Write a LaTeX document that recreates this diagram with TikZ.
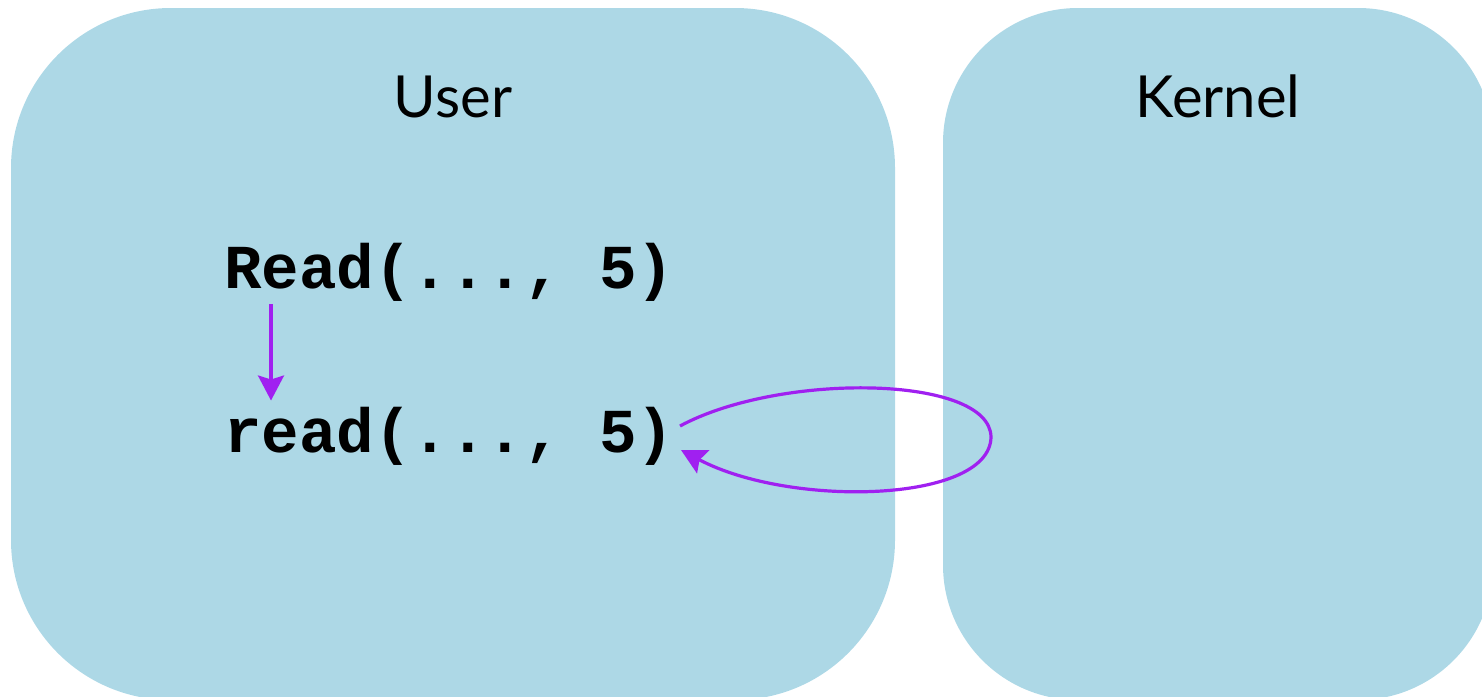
\documentclass[tikz,border=0pt]{standalone}
\usepackage{fontspec}
\setmainfont{Lato}
\setmonofont{Liberation Mono}
\usetikzlibrary{arrows.meta}
\definecolor{spaceblue}{RGB}{173,216,230}
\definecolor{callpurple}{RGB}{160,32,240}

\begin{document}
\begin{tikzpicture}[x=1pt,y=-1pt]
\tikzstyle{every node}+=[inner sep=0pt]
\tikzstyle{space}=[fill=spaceblue]
\tikzstyle{title}=[anchor=base,font=\fontsize{58}{60}\selectfont]
\tikzstyle{code}=[anchor=base west,font=\fontsize{62.5}{64}\selectfont\ttfamily\bfseries]
\tikzstyle{call}=[draw=callpurple,line width=3.2pt,-{Stealth[width=26pt,length=25pt,inset=4pt]}]
\useasboundingbox (0,0) rectangle (1482,696);
\clip (0,0) rectangle (1482,696);
\fill [space,rounded corners=160pt] (11,8) rectangle (895,700);
\fill [space,rounded corners=135pt] (943,8) rectangle (1493,700);
\node [title] (user) at (453,117) {User};
\node [title] (kernel) at (1218,117) {Kernel};
\node [code] (Read) at (224,288) {Read(..., 5)};
\node [code] (read) at (224,452) {read(..., 5)};
\coordinate (loop out) at (680,426);
\coordinate (loop far) at (991,437);
\coordinate (loop in) at (681,450);
\draw [call] ([xshift=47pt,yshift=-3pt]Read.south west) -- ([xshift=47pt,yshift=6pt]read.north west);
\draw [call] (loop out) .. controls (780,372) and (990,375) .. (loop far)
  .. controls (990,503) and (790,508) .. (loop in);
\end{tikzpicture}
\end{document}
